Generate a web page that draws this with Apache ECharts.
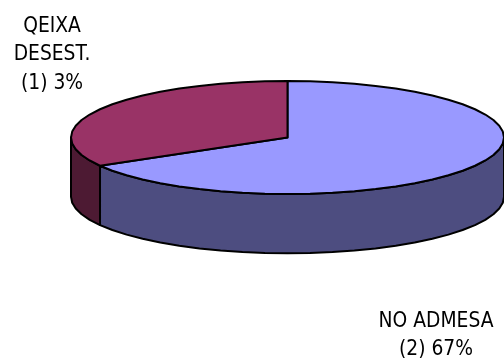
<!DOCTYPE html>
<html>
<head>
<meta charset="utf-8">
<style>html,body{margin:0;padding:0;background:#fff}#c{width:504px;height:358px}</style>
<script src="https://cdn.jsdelivr.net/npm/echarts@6/dist/echarts.min.js"></script>
</head>
<body>
<div id="c"></div>
<script>
// Slices run clockwise from twelve o'clock.
var categories = ['NO ADMESA', 'QEIXA DESEST.'];
var values = [2, 1];
var topColors = ['#9999ff', '#993366'];
var wallColors = ['#4d4d80', '#4d1a33'];
var percentLabels = ['(2) 67%', '(1) 3%'];

var WALL_DEPTH = 1.05;   // height of the disc's rim, in y-axis units
var ARC_STEP = 6;        // degrees between rim vertices
var total = values.reduce(function (a, b) { return a + b; }, 0);

function arcPoints(api, from, to, drop) {
  var pts = [];
  var n = Math.max(1, Math.ceil((to - from) / ARC_STEP));
  for (var i = 0; i <= n; i++) {
    var t = (from + (to - from) * i / n) * Math.PI / 180;
    pts.push(api.coord([Math.cos(t), -Math.sin(t) - drop]));
  }
  return pts;
}

function renderSlice(params, api) {
  var idx = params.dataIndex;
  var before = 0;
  for (var i = 0; i < idx; i++) before += values[i];
  var start = -90 + before / total * 360;
  var end = start + api.value(1) / total * 360;
  var stroke = { stroke: '#000', lineWidth: 2, lineJoin: 'round' };
  var children = [];

  // Only the part of the rim facing the viewer (0 to 180 degrees) is visible.
  var wallFrom = Math.max(start, 0);
  var wallTo = Math.min(end, 180);
  if (wallTo > wallFrom) {
    var wall = arcPoints(api, wallFrom, wallTo, 0)
      .concat(arcPoints(api, wallFrom, wallTo, WALL_DEPTH).reverse());
    children.push({
      type: 'polygon',
      shape: { points: wall },
      style: Object.assign({ fill: wallColors[idx] }, stroke)
    });
  }

  var top = [api.coord([0, 0])].concat(arcPoints(api, start, end, 0));
  children.push({
    type: 'polygon',
    shape: { points: top },
    style: Object.assign({ fill: topColors[idx] }, stroke)
  });
  return { type: 'group', children: children };
}

var labelStyle = {
  fontFamily: '"DejaVu Sans Condensed", "DejaVu Sans", sans-serif',
  fontSize: 20.8,
  lineHeight: 28.5,
  fill: '#000',
  align: 'center',
  verticalAlign: 'top'
};

var chart = echarts.init(document.getElementById('c'), null, { renderer: 'canvas' });
chart.setOption({
  animation: false,
  backgroundColor: '#fff',
  grid: { left: 71, top: 81, width: 437, height: 113 },
  xAxis: { type: 'value', min: -1, max: 1, show: false },
  yAxis: { type: 'value', min: -1, max: 1, show: false },
  series: [{
    type: 'custom',
    clip: false,
    coordinateSystem: 'cartesian2d',
    encode: { x: 0, y: 1 },
    data: categories.map(function (name, i) {
      return { name: name, value: [i, values[i]] };
    }),
    renderItem: renderSlice
  }],
  graphic: [
    {
      type: 'text', x: 52, y: 12,
      style: Object.assign({}, labelStyle, { text: 'QEIXA\nDESEST.\n' + percentLabels[1] })
    },
    {
      type: 'text', x: 436, y: 307,
      style: Object.assign({}, labelStyle, { text: categories[0] + '\n' + percentLabels[0] })
    }
  ]
});
</script>
</body>
</html>
